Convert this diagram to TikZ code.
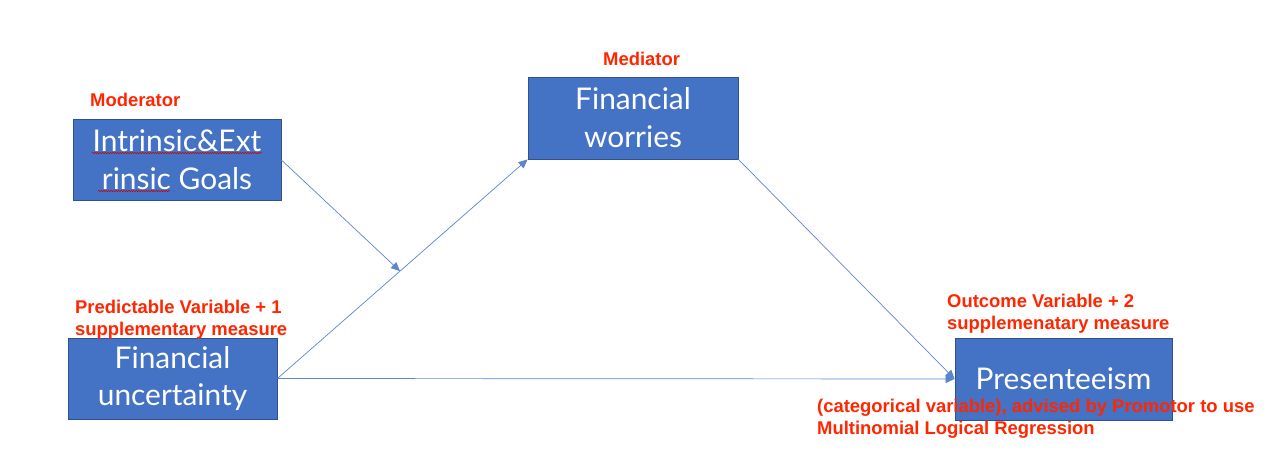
\documentclass[tikz,border=0pt]{standalone}
\usepackage{fontspec}
\setmainfont{Liberation Sans}
\newfontfamily\boxfont{Lato}
\usetikzlibrary{arrows.meta,calc,decorations.pathmorphing}
\definecolor{boxblue}{HTML}{4472C4}
\definecolor{boxedge}{HTML}{2F528F}
\definecolor{labred}{HTML}{FF2600}
\definecolor{linkblue}{HTML}{5B86CF}
\tikzset{
  varbox/.style={draw=boxedge, line width=0.8bp, fill=boxblue, text=white, align=center,
    inner sep=0pt, font=\boxfont\fontsize{30}{38}\selectfont},
  tag/.style={text=labred, font=\bfseries\fontsize{18.5}{22.5}\selectfont, inner sep=0pt, anchor=base west, align=left},
  conn/.style={draw=linkblue, line width=0.7bp, -{Triangle[length=9bp,width=8bp]}},
  spell/.style={draw=red!80!black, line width=0.5bp, decorate, decoration={snake, amplitude=0.7bp, segment length=2.5bp}}
}
\begin{document}
\begin{tikzpicture}[x=1bp,y=-1bp]
\useasboundingbox[fill=white] (0,0) rectangle (1280,450);
% boxes
\node[varbox, minimum width=208bp, minimum height=81bp] (goals) at (177,160) {Intrinsic\&Ext\\rinsic Goals};
\node[varbox, minimum width=210bp, minimum height=82bp] (worries) at (633,118) {Financial\\worries};
\node[varbox, minimum width=209bp, minimum height=81bp] (unc) at (172.5,378.5) {Financial\\uncertainty};
\node[varbox, minimum width=217bp, minimum height=82bp] (pres) at (1063.5,379) {Presenteeism};
% spell-check underlines
\draw[spell] (92,153) -- (262,153);
\draw[spell] (98,191) -- (170,191);
% connectors
\coordinate (mid) at ($(unc.east)!0.49!(worries.south west)$);
\draw[conn] (unc.east) -- (worries.south west);
\draw[conn] (goals.east) -- (mid);
\draw[conn] (worries.south east) -- (pres.west);
\draw[conn] (unc.east) -- (pres.west);
% labels (anchor at the baseline of the last line)
\node[tag] (lmod) at (90,107) {Moderator};
\node[tag] (lmed) at (603,66) {Mediator};
\node[tag] (lpred) at (75,336) {Predictable Variable + 1\\supplementary measure};
\node[tag] (lout) at (947,330) {Outcome Variable + 2\\supplemenatary measure};
\node[tag] (lcat) at (817,435) {(categorical variable), advised by Promotor to use\\Multinomial Logical Regression};
\end{tikzpicture}
\end{document}
